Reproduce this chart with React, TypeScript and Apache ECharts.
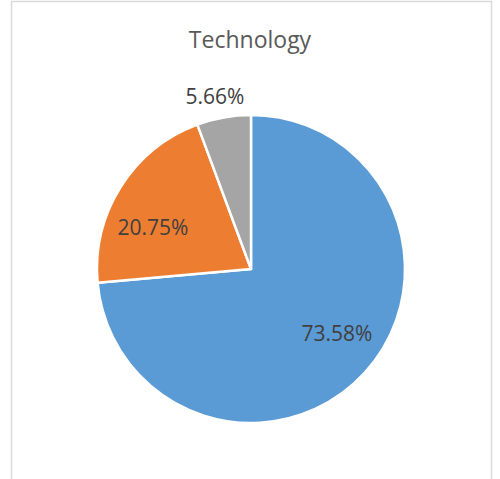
import React, { useEffect, useRef } from "react";
import * as echarts from "echarts";

const TITLE = "Technology";
const CATEGORIES = ["A", "B", "C"];
const VALUES = [39, 11, 3];
const PERCENT_LABELS = ["73.58%", "20.75%", "5.66%"];
const COLORS = ["#5B9BD5", "#ED7D31", "#A5A5A5"];
// label centres (layout only)
const LABEL_XY: [number, number][] = [
  [337, 333],
  [153, 227],
  [215, 96],
];

export default function App() {
  const ref = useRef<HTMLDivElement>(null);
  useEffect(() => {
    if (!ref.current) return;
    const chart = echarts.init(ref.current, undefined, { renderer: "svg" });
    chart.setOption({
      animation: false,
      backgroundColor: "#ffffff",
      title: {
        text: TITLE,
        left: "center",
        top: 22,
        textStyle: {
          fontFamily: "Open Sans",
          fontSize: 23,
          fontWeight: "normal",
          color: "#595959",
        },
      },
      graphic: [
        {
          type: "rect",
          shape: { x: 11.5, y: 1.5, width: 480, height: 520 },
          style: { fill: "none", stroke: "#d9d9d9", lineWidth: 1.5 },
          silent: true,
        },
      ],
      series: [
        {
          type: "pie",
          center: [251, 269],
          radius: 154,
          startAngle: 90,
          clockwise: true,
          data: CATEGORIES.map((name, i) => ({
            name,
            value: VALUES[i],
            itemStyle: { color: COLORS[i] },
          })),
          itemStyle: { borderColor: "#ffffff", borderWidth: 2.5 },
          label: {
            show: true,
            position: "inside",
            formatter: (p: any) => PERCENT_LABELS[p.dataIndex],
            fontFamily: "Open Sans",
            fontSize: 21,
            color: "#404040",
          },
          labelLine: { show: false },
          labelLayout: (p: any) => ({
            x: LABEL_XY[p.dataIndex][0],
            y: LABEL_XY[p.dataIndex][1],
            align: "center",
            verticalAlign: "middle",
          }),
          emphasis: { disabled: true },
        },
      ],
    });
    return () => chart.dispose();
  }, []);
  return (
    <div
      ref={ref}
      style={{ position: "fixed", left: 0, top: 0, width: 500, height: 479 }}
    />
  );
}
